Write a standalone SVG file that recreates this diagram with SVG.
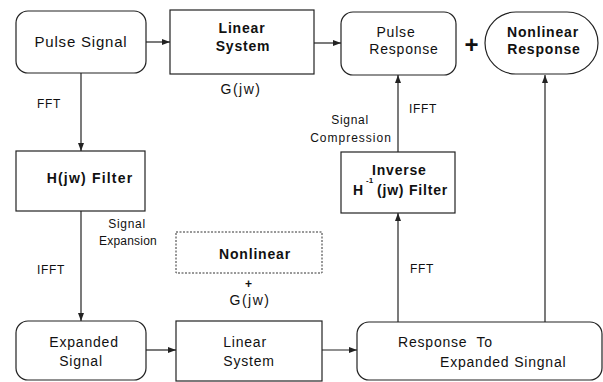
<svg xmlns="http://www.w3.org/2000/svg" width="603" height="382" viewBox="0 0 603 382">
<style>
.box{fill:#fff;stroke:#222;stroke-width:1.2}
.dot{fill:#fff;stroke:#333;stroke-width:1;stroke-dasharray:2 1.5}
.ln{stroke:#222;stroke-width:1.2;fill:none}
text{font-family:"Liberation Sans",Arial,sans-serif;fill:#111;font-size:14px;letter-spacing:0.8px}
.c{text-anchor:middle}
.b{font-weight:bold}
.s{font-size:12px;letter-spacing:0.7px}
</style>
<defs>
<marker id="ah" viewBox="0 0 8 6" refX="8" refY="3" markerWidth="8" markerHeight="6" orient="auto" markerUnits="userSpaceOnUse">
<path d="M0,0 L8,3 L0,6 z" fill="#222"/>
</marker>
</defs>
<rect width="603" height="382" fill="#fff"/>
<g id="connectors">
<line class="ln" x1="146" y1="42" x2="170" y2="42" marker-end="url(#ah)"/>
<line class="ln" x1="314" y1="43" x2="341" y2="43" marker-end="url(#ah)"/>
<line class="ln" x1="81" y1="73" x2="81" y2="151" marker-end="url(#ah)"/>
<line class="ln" x1="81" y1="211" x2="81" y2="321" marker-end="url(#ah)"/>
<line class="ln" x1="146" y1="350" x2="176" y2="350" marker-end="url(#ah)"/>
<line class="ln" x1="322" y1="350" x2="357" y2="350" marker-end="url(#ah)"/>
<line class="ln" x1="398" y1="322" x2="398" y2="213" marker-end="url(#ah)"/>
<line class="ln" x1="398" y1="152" x2="398" y2="75" marker-end="url(#ah)"/>
<line class="ln" x1="545" y1="322" x2="545" y2="75" marker-end="url(#ah)"/>
<text class="s" x="37" y="108">FFT</text>
<text class="s" x="37" y="274">IFFT</text>
<text class="s c" x="127" y="228">Signal</text>
<text class="s c" x="128" y="245" style="letter-spacing:0.2px">Expansion</text>
<text class="s c" x="350" y="124">Signal</text>
<text class="s c" x="351" y="142" style="letter-spacing:1px">Compression</text>
<text class="s" x="409" y="113">IFFT</text>
<text class="s" x="410" y="273">FFT</text>
</g>
<g id="pulse-signal">
<rect class="box" x="16" y="11" width="130" height="62" rx="12"/>
<text class="c" x="81" y="47" style="font-size:15px">Pulse Signal</text>
</g>
<g id="linear-system-top">
<rect class="box" x="170" y="10" width="144" height="64"/>
<text class="c b" x="242" y="33">Linear</text>
<text class="c b" x="243" y="51">System</text>
<text class="c" x="241" y="94" style="letter-spacing:1.5px">G(jw)</text>
</g>
<g id="pulse-response">
<rect class="box" x="341" y="12" width="115" height="63" rx="12"/>
<text class="c" x="396" y="37">Pulse</text>
<text class="c" x="404" y="54">Response</text>
</g>
<g id="plus">
<text class="c b" x="472" y="53" style="font-size:24px">+</text>
</g>
<g id="nonlinear-response">
<rect class="box" x="485" y="12" width="113" height="62" rx="31"/>
<text class="c b" x="543" y="37">Nonlinear</text>
<text class="c b" x="544" y="54">Response</text>
</g>
<g id="h-filter">
<rect class="box" x="16" y="151" width="129" height="60"/>
<text class="c b" x="90" y="183" style="letter-spacing:1.2px">H(jw) Filter</text>
</g>
<g id="nonlinear-dotted">
<rect class="dot" x="176" y="232" width="146" height="41"/>
<text class="c b" x="255" y="259">Nonlinear</text>
<text class="c b" x="249" y="288" style="font-size:12px">+</text>
<text class="c" x="250" y="305" style="letter-spacing:1.5px">G(jw)</text>
</g>
<g id="inverse-filter">
<rect class="box" x="341" y="152" width="114" height="61"/>
<text class="b" x="372" y="175">Inverse</text>
<text class="b" x="353" y="195">H</text>
<text class="b" x="366" y="183" style="font-size:8px;letter-spacing:0">-1</text>
<text class="b" x="377" y="195">(jw) Filter</text>
</g>
<g id="expanded-signal">
<rect class="box" x="16" y="321" width="130" height="59" rx="12"/>
<text class="c" x="84" y="347">Expanded</text>
<text class="c" x="81" y="366">Signal</text>
</g>
<g id="linear-system-bottom">
<rect class="box" x="176" y="321" width="146" height="60"/>
<text class="c" x="245" y="347">Linear</text>
<text class="c" x="249" y="366">System</text>
</g>
<g id="response-expanded">
<rect class="box" x="357" y="322" width="245" height="58" rx="12"/>
<text x="398" y="347" xml:space="preserve">Response  To</text>
<text x="440" y="367">Expanded Singnal</text>
</g>
</svg>
